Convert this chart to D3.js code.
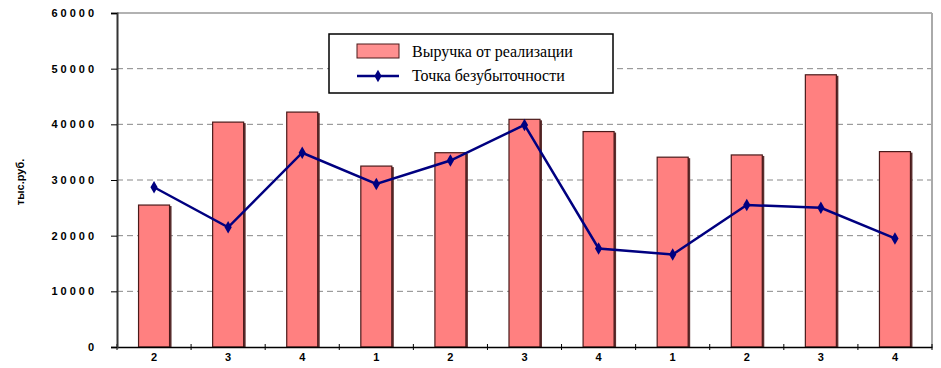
<!DOCTYPE html>
<html lang="ru">
<head>
  <meta charset="UTF-8">
  <title>Выручка и точка безубыточности</title>
  <script src="https://d3js.org/d3.v7.min.js"></script>
  <style>
    body { margin: 0; background: #fff; }
    .tick text { font-family: Arial, sans-serif; font-weight: bold; font-size: 11px; fill: #000; }
  </style>
</head>
<body>
  <div id="chart"></div>
  <script>
    // quarters along the x axis
    const quarters = ["2", "3", "4", "1", "2", "3", "4", "1", "2", "3", "4"];
    // revenue from sales, thousand rubles
    const revenue = [25500, 40400, 42200, 32500, 34900, 40900, 38700, 34100, 34500, 48900, 35100];
    // break-even point
    const breakEven = [28700, 21500, 34900, 29300, 33500, 39900, 17700, 16600, 25500, 25000, 19500];
    const yTicks = [0, 10000, 20000, 30000, 40000, 50000, 60000];

    const width = 941, height = 368;
    const margin = { top: 13, right: 9, bottom: 21, left: 117 };

    const svg = d3.select("#chart").append("svg").attr("width", width).attr("height", height);

    const x = d3.scaleBand().domain(d3.range(quarters.length)).range([margin.left, width - margin.right]);
    const y = d3.scaleLinear().domain([0, 60000]).range([height - margin.bottom, margin.top]);

    // grid lines
    svg.append("g").selectAll("line")
      .data(yTicks.slice(1, -1))
      .enter().append("line")
      .attr("x1", margin.left).attr("x2", width - margin.right)
      .attr("y1", d => y(d)).attr("y2", d => y(d))
      .attr("stroke", "#888").attr("stroke-dasharray", "6,4");
    svg.append("line")
      .attr("x1", margin.left).attr("x2", width - margin.right)
      .attr("y1", y(60000)).attr("y2", y(60000))
      .attr("stroke", "#999").attr("stroke-width", 1.5);
    svg.append("line")
      .attr("x1", width - margin.right).attr("x2", width - margin.right)
      .attr("y1", y(60000)).attr("y2", y(0))
      .attr("stroke", "#aaa").attr("stroke-width", 2);

    // bars
    const barW = 31;
    svg.append("g").selectAll("rect.shadow")
      .data(revenue)
      .enter().append("rect")
      .attr("x", (d, i) => x(i) + x.bandwidth() / 2 - barW / 2 + 2)
      .attr("y", d => y(d) + 1)
      .attr("width", barW)
      .attr("height", d => y(0) - y(d) - 1)
      .attr("fill", "#5b3030");
    svg.append("g").selectAll("rect.bar")
      .data(revenue)
      .enter().append("rect")
      .attr("x", (d, i) => x(i) + x.bandwidth() / 2 - barW / 2)
      .attr("y", d => y(d))
      .attr("width", barW)
      .attr("height", d => y(0) - y(d))
      .attr("fill", "#ff8080")
      .attr("stroke", "#4a1a1a")
      .attr("stroke-width", 1.2);

    // axes
    const xAxis = svg.append("g").attr("transform", `translate(0,${y(0)})`)
      .call(d3.axisBottom(x).tickFormat(i => quarters[i]).tickSize(0).tickPadding(6));
    xAxis.select(".domain").attr("stroke", "#000").attr("stroke-width", 1.5);
    // tick marks between categories
    xAxis.append("g").selectAll("line")
      .data(d3.range(quarters.length + 1))
      .enter().append("line")
      .attr("x1", i => margin.left + i * x.step()).attr("x2", i => margin.left + i * x.step())
      .attr("y1", -3).attr("y2", 3)
      .attr("stroke", "#000");

    const yAxis = svg.append("g").attr("transform", `translate(${margin.left},0)`)
      .call(d3.axisLeft(y).tickValues(yTicks).tickFormat(d3.format("d")).tickSize(6).tickPadding(14));
    yAxis.select(".domain").attr("stroke", "#333").attr("stroke-width", 2);
    yAxis.selectAll(".tick text").attr("letter-spacing", 3);

    // y axis title
    svg.append("text")
      .attr("transform", `translate(24,${(margin.top + y(0)) / 2 + 2}) rotate(-90)`)
      .attr("text-anchor", "middle")
      .attr("font-family", "Arial, sans-serif").attr("font-weight", "bold").attr("font-size", 11)
      .text("тыс.руб.");

    // break-even line
    const line = d3.line().x((d, i) => x(i) + x.bandwidth() / 2).y(d => y(d));
    svg.append("path").datum(breakEven)
      .attr("d", line)
      .attr("fill", "none").attr("stroke", "#000080").attr("stroke-width", 2.5);
    const diamond = d3.symbol().type(d3.symbolDiamond).size(45);
    svg.append("g").selectAll("path")
      .data(breakEven)
      .enter().append("path")
      .attr("d", diamond)
      .attr("transform", (d, i) => `translate(${x(i) + x.bandwidth() / 2},${y(d)})`)
      .attr("fill", "#000080");

    // legend
    const legend = svg.append("g").attr("transform", "translate(329,34)");
    legend.append("rect").attr("width", 284).attr("height", 59)
      .attr("fill", "#fff").attr("stroke", "#000").attr("stroke-width", 1.5);
    legend.append("rect").attr("x", 28).attr("y", 10).attr("width", 42).attr("height", 14)
      .attr("fill", "#ff9090").attr("stroke", "#4a1a1a");
    legend.append("line").attr("x1", 28).attr("x2", 70).attr("y1", 42).attr("y2", 42)
      .attr("stroke", "#000080").attr("stroke-width", 2.5);
    legend.append("path").attr("d", diamond).attr("transform", "translate(49,42)").attr("fill", "#000080");
    const legendNames = ["Выручка от реализации", "Точка безубыточности"];
    legend.selectAll("text.name")
      .data(legendNames)
      .enter().append("text")
      .attr("x", 83).attr("y", (d, i) => 23 + i * 24)
      .attr("font-family", "'Liberation Serif', 'Times New Roman', serif").attr("font-size", 16)
      .text(d => d);
  </script>
</body>
</html>
